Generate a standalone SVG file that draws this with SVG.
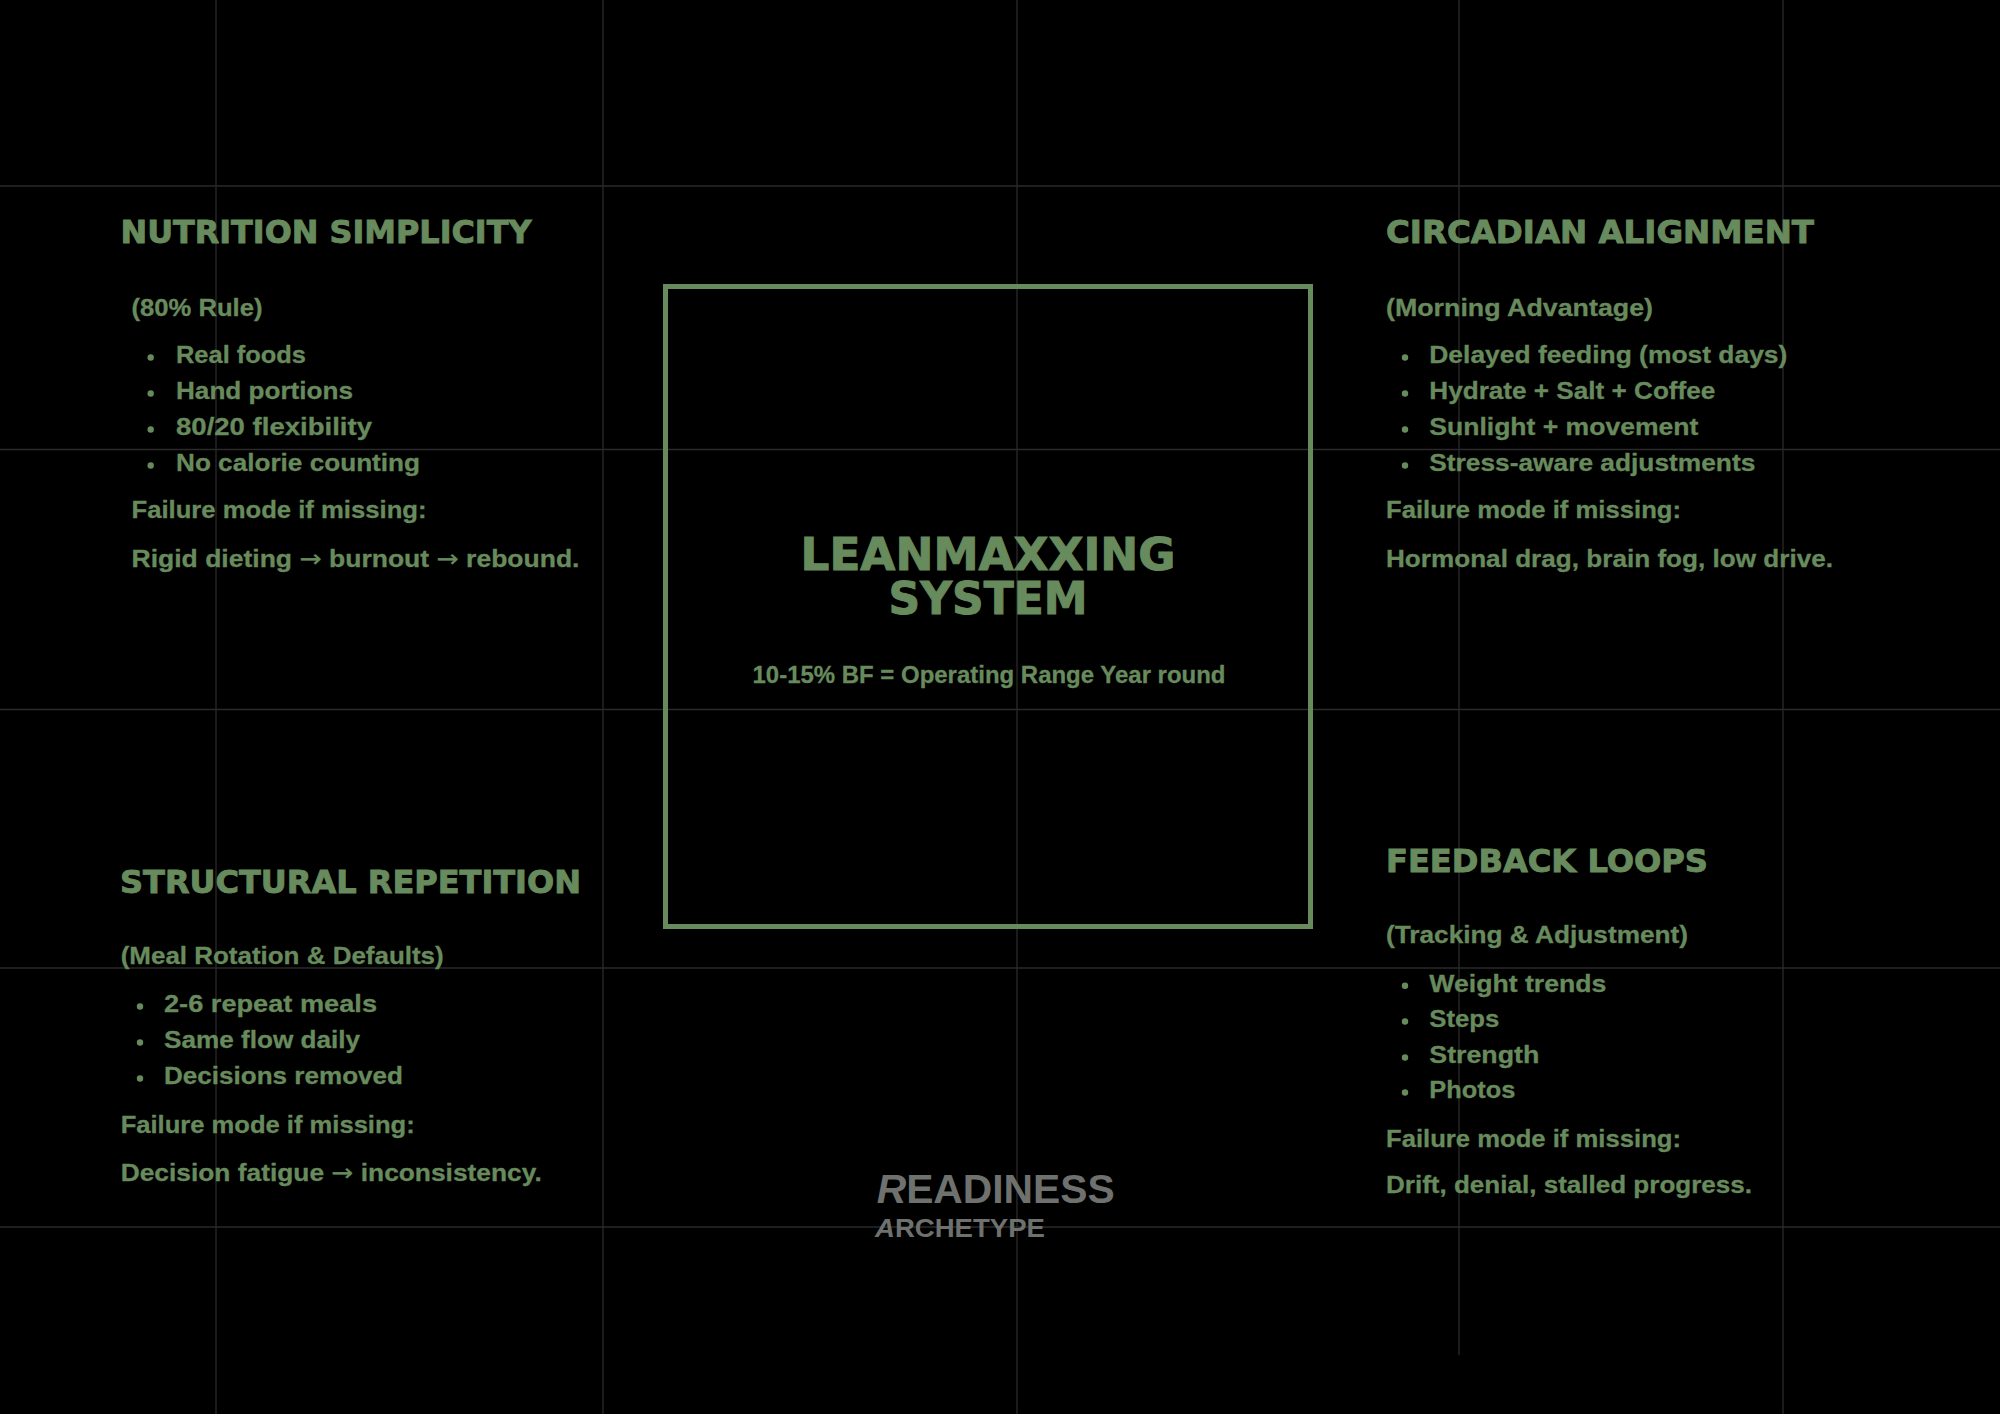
<svg xmlns="http://www.w3.org/2000/svg" width="2000" height="1414" viewBox="0 0 2000 1414">
<style>
.grid{stroke:#2a2a2a;stroke-width:1.3;fill:none}
.t{font-family:"DejaVu Sans","Liberation Sans",sans-serif;font-weight:bold;fill:#688b5d;stroke:#688b5d;stroke-width:0.9;font-size:32px}
.b{font-family:"Liberation Sans",Arial,sans-serif;font-weight:bold;fill:#688b5d;stroke:#688b5d;stroke-width:0.3;font-size:24px}
.ar{font-family:"DejaVu Sans",sans-serif;font-weight:normal}
.ct{font-family:"DejaVu Sans","Liberation Sans",sans-serif;font-weight:bold;fill:#688b5d;stroke:#688b5d;stroke-width:1;font-size:45px;text-anchor:middle}
.logo{font-family:"Liberation Sans",Arial,sans-serif;font-weight:bold;fill:#6e716e}
.dot{fill:#688b5d}
.frame{fill:none;stroke:#688b5d;stroke-width:5}
</style>
<rect x="0" y="0" width="2000" height="1414" fill="#000"/>
<g id="grid">
<line class="grid" x1="0" y1="186" x2="2000" y2="186"/>
<line class="grid" x1="0" y1="449.5" x2="2000" y2="449.5"/>
<line class="grid" x1="0" y1="709.5" x2="2000" y2="709.5"/>
<line class="grid" x1="0" y1="968" x2="2000" y2="968"/>
<line class="grid" x1="0" y1="1227" x2="2000" y2="1227"/>
<line class="grid" x1="216" y1="0" x2="216" y2="1414"/>
<line class="grid" x1="603" y1="0" x2="603" y2="1414"/>
<line class="grid" x1="1017" y1="0" x2="1017" y2="1414"/>
<line class="grid" x1="1459" y1="0" x2="1459" y2="1355"/>
<line class="grid" x1="1783" y1="0" x2="1783" y2="1414"/>
</g>
<g id="connectors"/>
<g id="center">
<rect class="frame" x="665.5" y="286.5" width="645" height="640"/>
<text class="ct" x="988" y="570" textLength="375" lengthAdjust="spacingAndGlyphs">LEANMAXXING</text>
<text class="ct" x="988" y="613.5" textLength="199" lengthAdjust="spacingAndGlyphs">SYSTEM</text>
<text class="b" x="989" y="683" text-anchor="middle" textLength="473" lengthAdjust="spacingAndGlyphs">10-15% BF = Operating Range Year round</text>
</g>
<g id="nutrition">
<text class="t" x="120.5" y="243" textLength="411" lengthAdjust="spacingAndGlyphs">NUTRITION SIMPLICITY</text>
<text class="b" x="131.5" y="315.5" textLength="131" lengthAdjust="spacingAndGlyphs">(80% Rule)</text>
<circle class="dot" cx="150.7" cy="357.5" r="3.2"/>
<circle class="dot" cx="150.7" cy="393.5" r="3.2"/>
<circle class="dot" cx="150.7" cy="429.5" r="3.2"/>
<circle class="dot" cx="150.7" cy="465.5" r="3.2"/>
<text class="b" x="176" y="363.3" textLength="130" lengthAdjust="spacingAndGlyphs">Real foods</text>
<text class="b" x="176" y="399.3" textLength="177" lengthAdjust="spacingAndGlyphs">Hand portions</text>
<text class="b" x="176" y="435" textLength="196" lengthAdjust="spacingAndGlyphs">80/20 flexibility</text>
<text class="b" x="176" y="470.7" textLength="244" lengthAdjust="spacingAndGlyphs">No calorie counting</text>
<text class="b" x="131.5" y="518.3" textLength="295" lengthAdjust="spacingAndGlyphs">Failure mode if missing:</text>
<text class="b" x="131.5" y="566.7" textLength="448" lengthAdjust="spacingAndGlyphs">Rigid dieting <tspan class="ar">→</tspan> burnout <tspan class="ar">→</tspan> rebound.</text>
</g>
<g id="circadian">
<text class="t" x="1386" y="243" textLength="428" lengthAdjust="spacingAndGlyphs">CIRCADIAN ALIGNMENT</text>
<text class="b" x="1386" y="315.5" textLength="267" lengthAdjust="spacingAndGlyphs">(Morning Advantage)</text>
<circle class="dot" cx="1405" cy="357.5" r="3.2"/>
<circle class="dot" cx="1405" cy="393.5" r="3.2"/>
<circle class="dot" cx="1405" cy="429.5" r="3.2"/>
<circle class="dot" cx="1405" cy="465.5" r="3.2"/>
<text class="b" x="1429.3" y="363.3" textLength="358" lengthAdjust="spacingAndGlyphs">Delayed feeding (most days)</text>
<text class="b" x="1429.3" y="399.3" textLength="286" lengthAdjust="spacingAndGlyphs">Hydrate + Salt + Coffee</text>
<text class="b" x="1429.3" y="435" textLength="269" lengthAdjust="spacingAndGlyphs">Sunlight + movement</text>
<text class="b" x="1429.3" y="470.7" textLength="326" lengthAdjust="spacingAndGlyphs">Stress-aware adjustments</text>
<text class="b" x="1386" y="518.3" textLength="295" lengthAdjust="spacingAndGlyphs">Failure mode if missing:</text>
<text class="b" x="1386" y="566.7" textLength="447" lengthAdjust="spacingAndGlyphs">Hormonal drag, brain fog, low drive.</text>
</g>
<g id="structural">
<text class="t" x="120" y="892.7" textLength="461" lengthAdjust="spacingAndGlyphs">STRUCTURAL REPETITION</text>
<text class="b" x="120.7" y="964.3" textLength="323" lengthAdjust="spacingAndGlyphs">(Meal Rotation &amp; Defaults)</text>
<circle class="dot" cx="140" cy="1006.5" r="3.2"/>
<circle class="dot" cx="140" cy="1042.5" r="3.2"/>
<circle class="dot" cx="140" cy="1078.5" r="3.2"/>
<text class="b" x="164" y="1012.3" textLength="213" lengthAdjust="spacingAndGlyphs">2-6 repeat meals</text>
<text class="b" x="164" y="1048.3" textLength="196" lengthAdjust="spacingAndGlyphs">Same flow daily</text>
<text class="b" x="164" y="1084.3" textLength="239" lengthAdjust="spacingAndGlyphs">Decisions removed</text>
<text class="b" x="120.7" y="1132.7" textLength="294" lengthAdjust="spacingAndGlyphs">Failure mode if missing:</text>
<text class="b" x="120.7" y="1180.7" textLength="421" lengthAdjust="spacingAndGlyphs">Decision fatigue <tspan class="ar">→</tspan> inconsistency.</text>
</g>
<g id="feedback">
<text class="t" x="1386" y="871.7" textLength="322" lengthAdjust="spacingAndGlyphs">FEEDBACK LOOPS</text>
<text class="b" x="1386" y="943.3" textLength="302" lengthAdjust="spacingAndGlyphs">(Tracking &amp; Adjustment)</text>
<circle class="dot" cx="1405" cy="985.8" r="3.2"/>
<circle class="dot" cx="1405" cy="1021.5" r="3.2"/>
<circle class="dot" cx="1405" cy="1057.5" r="3.2"/>
<circle class="dot" cx="1405" cy="1092.5" r="3.2"/>
<text class="b" x="1429.3" y="991.7" textLength="177" lengthAdjust="spacingAndGlyphs">Weight trends</text>
<text class="b" x="1429.3" y="1027.3" textLength="70" lengthAdjust="spacingAndGlyphs">Steps</text>
<text class="b" x="1429.3" y="1063.3" textLength="110" lengthAdjust="spacingAndGlyphs">Strength</text>
<text class="b" x="1429.3" y="1098.3" textLength="86" lengthAdjust="spacingAndGlyphs">Photos</text>
<text class="b" x="1386" y="1146.7" textLength="295" lengthAdjust="spacingAndGlyphs">Failure mode if missing:</text>
<text class="b" x="1386" y="1193.3" textLength="366" lengthAdjust="spacingAndGlyphs">Drift, denial, stalled progress.</text>
</g>
<g id="logo">
<text class="logo" x="876.7" y="1203" font-size="41" textLength="238" lengthAdjust="spacingAndGlyphs"><tspan font-style="italic">R</tspan>EADINESS</text>
<text class="logo" x="875" y="1237.3" font-size="26.5" textLength="170" lengthAdjust="spacingAndGlyphs"><tspan font-style="italic">A</tspan>RCHETYPE</text>
</g>
</svg>
